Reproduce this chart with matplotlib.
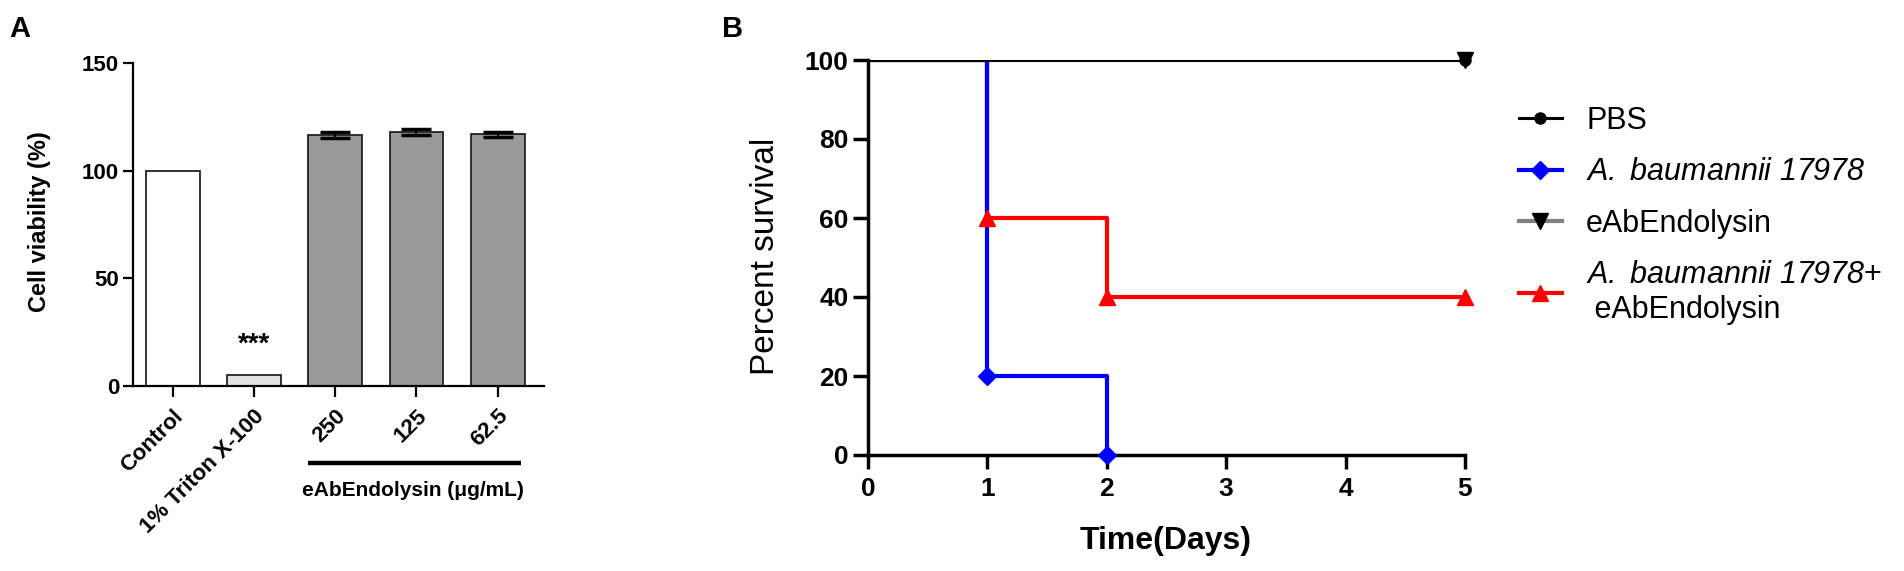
import matplotlib
matplotlib.use('Agg')
import matplotlib.pyplot as plt
from matplotlib.lines import Line2D
from matplotlib import font_manager
from matplotlib.font_manager import FontProperties
import matplotlib.transforms as mtransforms
import numpy as np

plt.rcParams['font.family'] = ['Liberation Sans', 'DejaVu Sans']
plt.rcParams['mathtext.fontset'] = 'custom'
plt.rcParams['mathtext.rm'] = 'Liberation Sans:italic'
plt.rcParams['mathtext.it'] = 'Liberation Sans:italic'

# ---------------- Panel A data ----------------
a_categories = ['Control', '1% Triton X-100', '250', '125', '62.5']
a_values = [100, 5, 116.6, 118.0, 116.8]
a_errors = [0, 0, 1.2, 1.3, 1.2]
a_colors = ['#ffffff', '#e2e2e2', '#999999', '#999999', '#999999']
a_yticks = [0, 50, 100, 150]

# ---------------- Panel B data ----------------
pbs_t = [0, 5]
pbs_s = [100, 100]
ab_t = [0, 1, 2]
ab_s = [100, 20, 0]
eab_t = [0, 5]
eab_s = [100, 100]
combo_t = [0, 1, 2, 5]
combo_s = [100, 60, 40, 40]
b_xticks = [0, 1, 2, 3, 4, 5]
b_yticks = [0, 20, 40, 60, 80, 100]
b_labels = ['PBS', r'$A.\ baumannii\ 17978$', 'eAbEndolysin',
            r'$A.\ baumannii\ 17978$+' + '\n eAbEndolysin']

# narrow bold font if available
try:
    font_manager.findfont(FontProperties(family='Liberation Sans Narrow', weight='bold'),
                          fallback_to_default=False)
    narrow = ['Liberation Sans Narrow', 'Liberation Sans', 'DejaVu Sans']
    tick_fs_b, xlabel_fs_b = 21, 25
except Exception:
    narrow = ['Liberation Sans', 'DejaVu Sans']
    tick_fs_b, xlabel_fs_b = 19, 23

W, H = 1904, 571
fig = plt.figure(figsize=(W / 100, H / 100), dpi=100)

# ================= Panel A =================
axA = fig.add_axes([133 / W, 1 - 386 / H, (544 - 133) / W, (386 - 63) / H])
x = np.arange(len(a_categories))
axA.bar(x, a_values, width=0.66, color=a_colors, edgecolor='#222222',
        linewidth=1.3, zorder=2)
axA.errorbar(x[2:], a_values[2:], yerr=a_errors[2:], fmt='none', ecolor='k',
             elinewidth=1.5, capsize=11, capthick=2.5, zorder=3)
axA.set_xlim(-0.49, 4.57)
axA.set_ylim(0, 150)
axA.set_yticks(a_yticks)
axA.set_xticks(x)
axA.set_xticklabels(a_categories, rotation=45, ha='right', va='top',
                    rotation_mode='anchor', fontsize=16, fontweight='bold')
for lab in axA.get_yticklabels():
    lab.set_fontweight('bold')
    lab.set_fontsize(16)
for s in ['top', 'right']:
    axA.spines[s].set_visible(False)
for s in ['left', 'bottom']:
    axA.spines[s].set_linewidth(1.6)
axA.tick_params(axis='y', length=7, width=1.6, pad=3)
axA.tick_params(axis='x', length=8, width=1.6, pad=6)

axA.text(1, 19, '***', ha='center', va='center', fontsize=20, fontweight='bold')
trA = mtransforms.blended_transform_factory(axA.transData, axA.transAxes)
axA.plot([1.66, 4.29], [-0.238, -0.238], color='k', lw=3.2, transform=trA,
         clip_on=False, solid_capstyle='butt')
axA.text(2.96, -0.322, 'eAbEndolysin (μg/mL)', transform=trA, ha='center',
         va='center', fontsize=15, fontweight='bold')
fig.text(40 / W, 1 - 222 / H, 'Cell viability (%)', rotation=90, ha='center',
         va='center', fontsize=17, fontweight='bold')
fig.text(20 / W, 1 - 29 / H, 'A', ha='center', va='center', fontsize=21,
         fontweight='bold')

# ================= Panel B =================
axB = fig.add_axes([868 / W, 1 - 455 / H, (1465 - 868) / W, (455 - 60) / H])
axB.step(eab_t, eab_s, where='post', color='#808080', lw=2.2, zorder=2)
axB.step(combo_t, combo_s, where='post', color='#ff0000', lw=3, zorder=3)
axB.step(ab_t, ab_s, where='post', color='#0000ff', lw=3, zorder=3.5)
axB.step(pbs_t, pbs_s, where='post', color='k', lw=2.2, zorder=4)
axB.plot(combo_t[1:], combo_s[1:], '^', color='#ff0000', ms=12, clip_on=False, zorder=5)
axB.plot(ab_t[1:], ab_s[1:], 'D', color='#0000ff', ms=9, clip_on=False, zorder=5)
axB.plot(pbs_t[1:], pbs_s[1:], 'o', color='k', ms=8, clip_on=False, zorder=5)
axB.plot(eab_t[1:], eab_s[1:], 'v', color='k', ms=12, clip_on=False, zorder=6)

axB.set_xlim(0, 5)
axB.set_ylim(0, 100)
axB.set_xticks(b_xticks)
axB.set_yticks(b_yticks)
for lab in axB.get_xticklabels() + axB.get_yticklabels():
    lab.set_family(narrow)
    lab.set_fontweight('bold')
    lab.set_fontsize(tick_fs_b)
for s in ['top', 'right']:
    axB.spines[s].set_visible(False)
for s in ['left', 'bottom']:
    axB.spines[s].set_linewidth(2.5)
axB.tick_params(axis='y', length=11, width=2.5, pad=3)
axB.tick_params(axis='x', length=10, width=2.5, pad=6)

fig.text(766 / W, 1 - 256 / H, 'Percent survival', rotation=90, ha='center',
         va='center', fontsize=24)
fig.text(1166 / W, 1 - 541 / H, 'Time(Days)', ha='center', va='center',
         fontsize=xlabel_fs_b, fontweight='bold', family=narrow)
fig.text(733 / W, 1 - 29 / H, 'B', ha='center', va='center', fontsize=21,
         fontweight='bold')

handles = [
    Line2D([], [], color='k', lw=2.2, marker='o', ms=8),
    Line2D([], [], color='#0000ff', lw=3, marker='D', ms=9),
    Line2D([], [], color='#808080', lw=3, marker='v', ms=12,
           markerfacecolor='k', markeredgecolor='k'),
    Line2D([], [], color='#ff0000', lw=3, marker='^', ms=12),
]
fig.legend(handles, b_labels, loc='upper left',
           bbox_to_anchor=(1519 / W, 1 - 106 / H), frameon=False, fontsize=22,
           handlelength=1.4, handletextpad=0.8, labelspacing=0.7,
           borderpad=0, borderaxespad=0)

fig.savefig('out.png', dpi=100)
